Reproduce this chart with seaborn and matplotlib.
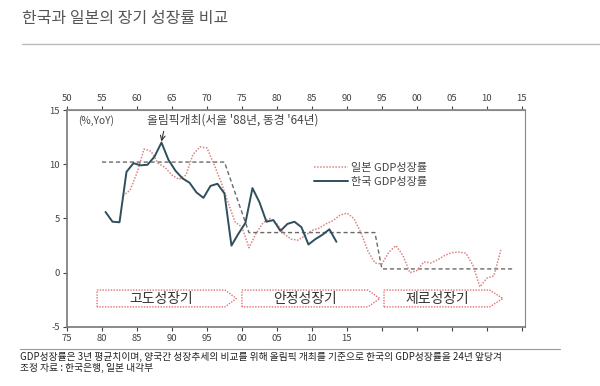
import numpy as np
import pandas as pd
import matplotlib
matplotlib.use("Agg")
import matplotlib.pyplot as plt
from matplotlib.patches import Polygon
import seaborn as sns

# Japan GDP growth (3-yr avg, %), plotted on the top axis years
japan_years = list(range(1958, 2013))
japan_growth = [7.1, 7.6, 9.2, 11.4, 11.2, 10.1, 9.7, 9.0, 8.6, 9.0,
                10.9, 11.6, 11.5, 10.0, 8.4, 6.5, 4.7, 4.2, 2.3, 3.6,
                4.6, 5.0, 4.5, 3.6, 3.1, 3.0, 3.4, 3.9, 4.1, 4.5,
                4.8, 5.3, 5.5, 5.0, 3.7, 2.0, 0.9, 0.8, 1.9, 2.5,
                1.6, 0.0, 0.2, 1.0, 0.9, 1.2, 1.6, 1.85, 1.9, 1.8,
                0.7, -1.3, -0.5, -0.3, 2.1]

# Korea GDP growth (3-yr avg, %), shifted back to line up the Olympics
korea_years = list(range(1980, 2014))
korea_growth = [5.6, 4.7, 4.65, 9.3, 10.1, 9.9, 9.95, 10.7, 12.0, 10.4,
                9.4, 8.7, 8.3, 7.4, 6.9, 8.0, 8.2, 7.3, 2.5, 3.6,
                4.6, 7.8, 6.5, 4.7, 4.85, 3.85, 4.5, 4.7, 4.2, 2.6,
                3.1, 3.5, 4.0, 2.85]
KOREA_SHIFT = 24.5

# Japan period averages (dashed step line)
avg_years = [1955, 1972.5, 1976, 1994, 1995, 2014]
avg_growth = [10.2, 10.2, 3.7, 3.7, 0.35, 0.35]

top_ticks = list(range(1950, 2016, 5))
bottom_labels = ["75", "80", "85", "90", "95", "00", "05", "10", "15"]

phases = ["고도성장기", "안정성장기", "제로성장기"]
phase_spans = [(1954.3, 1972.6, 1974.2), (1975.0, 1993.0, 1994.7), (1995.3, 2010.4, 2012.3)]

jp = pd.DataFrame({"year": japan_years, "growth": japan_growth})
kr = pd.DataFrame({"year": np.array(korea_years) - KOREA_SHIFT, "growth": korea_growth})
avg = pd.DataFrame({"year": avg_years, "growth": avg_growth})

sns.set_theme(style="white")
plt.rcParams["font.family"] = ["Noto Sans CJK KR", "DejaVu Sans"]
plt.rcParams["axes.unicode_minus"] = False

JP_COLOR = "#d98585"
KR_COLOR = "#2f4f5c"
TXT = "#444444"

fig = plt.figure(figsize=(6, 3.86), dpi=100)
ax = fig.add_axes([0.1117, 0.153, 0.7633, 0.562])

sns.lineplot(data=avg, x="year", y="growth", ax=ax, color="#6a6a6a",
             lw=1.0, linestyle=(0, (3, 2)))
sns.lineplot(data=jp, x="year", y="growth", ax=ax, color=JP_COLOR,
             lw=1.1, linestyle=(0, (1, 1)), label="일본 GDP성장률")
sns.lineplot(data=kr, x="year", y="growth", ax=ax, color=KR_COLOR,
             lw=1.4, label="한국 GDP성장률")

ax.set_xlim(1950, 2015.45)
ax.set_ylim(-5, 15)
ax.set_xlabel("")
ax.set_ylabel("")
ax.set_yticks([-5, 0, 5, 10, 15])
ax.set_xticks(top_ticks)
ax.set_xticklabels([bottom_labels[i] if i < len(bottom_labels) else "" for i in range(len(top_ticks))])
ax.tick_params(axis="both", labelsize=6.8, colors=TXT, length=3, width=0.8,
               direction="out", bottom=True, left=True, pad=2)

top = ax.secondary_xaxis("top")
top.set_xticks(top_ticks)
top.set_xticklabels([str(t)[-2:] for t in top_ticks])
top.tick_params(labelsize=6.8, colors=TXT, length=3, width=0.8, direction="out", pad=2)

for s in ["left", "bottom"]:
    ax.spines[s].set_color("#777777")
    ax.spines[s].set_linewidth(1.2)
for s in ["right", "top"]:
    ax.spines[s].set_color("#888888")
    ax.spines[s].set_linewidth(0.8)
top.spines["top"].set_color("#888888")

leg = ax.legend(loc="upper left", bbox_to_anchor=(0.53, 0.775), frameon=False,
                fontsize=8, handlelength=3, handletextpad=0.3, labelspacing=0.35,
                borderaxespad=0)
for t in leg.get_texts():
    t.set_color(TXT)

ax.text(1951.6, 14.0, "(%,YoY)", fontsize=7.3, color=TXT, va="center")
ax.annotate("올림픽개최(서울 '88년, 동경 '64년)", xy=(1963.5, 12.1), xytext=(1961.5, 14.05),
            fontsize=8.5, color=TXT, va="center",
            arrowprops=dict(arrowstyle="->", color="#333333", lw=0.8,
                            shrinkA=1, shrinkB=0, relpos=(0.1, 0.0)))

y_lo, y_hi = -3.15, -1.6
y_mid = (y_lo + y_hi) / 2
for label, (x0, x1, x2) in zip(phases, phase_spans):
    poly = Polygon([(x0, y_lo), (x0, y_hi), (x1, y_hi), (x2, y_mid), (x1, y_lo)],
                   closed=True, fill=False, edgecolor="#e07070", lw=1.0,
                   linestyle=(0, (1, 1)))
    ax.add_patch(poly)
    ax.text((x0 + x1) / 2, y_mid - 0.05, label, fontsize=10, color="#333333",
            ha="center", va="center")

fig.text(22 / 600, 1 - 18 / 386, "한국과 일본의 장기 성장률 비교", fontsize=11.5,
         color="#555555", ha="left", va="center")
fig.add_artist(plt.Line2D([22 / 600, 1.0], [1 - 44 / 386] * 2, color="#bbbbbb", lw=1))
fig.add_artist(plt.Line2D([20 / 600, 560 / 600], [1 - 349 / 386] * 2, color="#999999", lw=0.8))
fig.text(20 / 600, 1 - 357 / 386,
         "GDP성장률은 3년 평균치이며, 양국간 성장추세의 비교를 위해 올림픽 개최를 기준으로 한국의 GDP성장률을 24년 앞당겨",
         fontsize=7, color="#222222", ha="left", va="center")
fig.text(20 / 600, 1 - 368 / 386, "조정 자료 : 한국은행, 일본 내각부",
         fontsize=7, color="#222222", ha="left", va="center")

fig.savefig("out.png", dpi=100)
